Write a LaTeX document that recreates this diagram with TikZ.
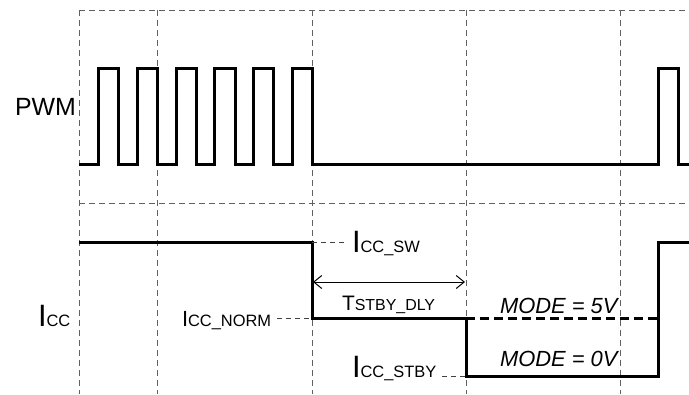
\documentclass[tikz,border=0pt]{standalone}
\usepackage{fontspec}
\setmainfont{Liberation Sans}
\usetikzlibrary{arrows.meta}
\newcommand\fsz[1]{\fontsize{#1}{#1}\selectfont}
\begin{document}
\begin{tikzpicture}[x=1bp,y=-1bp,
  gridline/.style={black!62,line width=1bp,dash pattern=on 6bp off 4bp},
  leader/.style={black!75,line width=0.9bp,dash pattern=on 5bp off 4bp},
  wave/.style={black,line width=3bp,line join=miter},
  wavedash/.style={wave,dash pattern=on 9bp off 5bp},
  lbl/.style={anchor=base west,inner sep=0pt,outer sep=0pt},
  timing/.style={black,line width=1bp,{Straight Barb[length=8bp,width=13bp]}-{Straight Barb[length=8bp,width=13bp]}}]
\useasboundingbox (0,0) rectangle (689,394);
% grid
\foreach \x in {79,157,312,466,620}{\draw[gridline] (\x,10) -- (\x,394);}
\draw[gridline] (79,10) -- (689,10);
\draw[gridline] (79,203) -- (689,203);
% PWM waveform
\draw[wave] (79,164)
  \foreach \r/\f in {98/118,137/157,176/196,214/235,253/273,292/312}{ -- (\r,164) -- (\r,68) -- (\f,68) -- (\f,164)}
  -- (658,164) -- (658,68) -- (678,68) -- (678,164) -- (689,164);
% ICC waveform
\draw[wave] (79,242) -- (312,242) -- (312,318) -- (466,318) -- (466,376) -- (658,376) -- (658,242) -- (689,242);
\draw[wavedash] (466,318) -- (658,318);
% labels
\node[lbl] (pwm) at (15,115) {\fsz{25}PWM};
\node[lbl] (icc) at (38,326) {\fsz{31}I\fsz{16.5}CC};
\node[lbl] (inorm) at (182,326) {\fsz{22}I\fsz{16.5}CC\_NORM};
\node[lbl] (isw) at (352,252) {\fsz{31}I\fsz{16.5}CC\_SW};
\node[lbl] (tdly) at (342,310) {\fsz{21}T\fsz{16}STBY\_DLY};
\node[lbl] (istby) at (352,377) {\fsz{31}I\fsz{16.5}CC\_STBY};
\node[lbl] (m5) at (500,313) {\fsz{22}\itshape MODE = 5V};
\node[lbl] (m0) at (500,366) {\fsz{22}\itshape MODE = 0V};
% leaders
\coordinate (swpt) at (312,242);
\coordinate (swend) at (345,242);
\coordinate (normpt) at (312,318);
\coordinate (normstart) at (277,318);
\coordinate (stbypt) at (466,376);
\coordinate (stbystart) at (442,376);
\draw[leader] (swpt) -- (swend);
\draw[leader] (normstart) -- (normpt);
\draw[leader] (stbystart) -- (stbypt);
% timing arrow
\coordinate (ta) at (313,282);
\coordinate (tb) at (465,282);
\draw[timing] (ta) -- (tb);
\end{tikzpicture}
\end{document}
